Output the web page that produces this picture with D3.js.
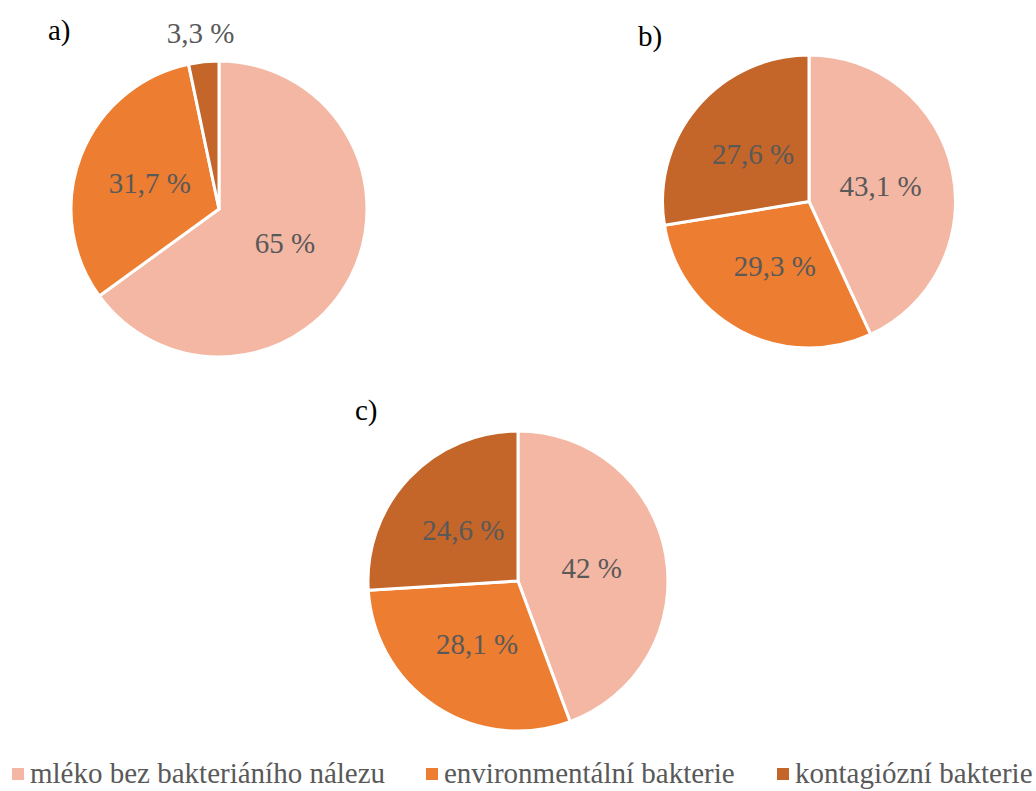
<!DOCTYPE html>
<html>
<head>
<meta charset="utf-8">
<script src="https://cdn.jsdelivr.net/npm/d3@7"></script>
<style>
  html, body { margin: 0; padding: 0; background: #fff; }
</style>
</head>
<body>
<svg id="chart" width="1036" height="791"></svg>
<script>
// Categories shared by all three pies
const categories = ["mléko bez bakteriáního nálezu", "environmentální bakterie", "kontagiózní bakterie"];
const colors = ["#F4B7A4", "#ED7D31", "#C4652A"];

// Shares (%) for each panel
const panelTitles = ["a)", "b)", "c)"];
const valuesA = [65, 31.7, 3.3];
const valuesB = [43.1, 29.3, 27.6];
const valuesC = [42, 28.1, 24.6];
const labelsA = ["65 %", "31,7 %", "3,3 %"];
const labelsB = ["43,1 %", "29,3 %", "27,6 %"];
const labelsC = ["42 %", "28,1 %", "24,6 %"];

const FONT = "'Liberation Serif', Tinos, 'Times New Roman', 'DejaVu Serif', serif";

const panels = [
  { title: panelTitles[0], values: valuesA, labels: labelsA, cx: 219, cy: 209, r: 148, tx: 48, ty: 40 },
  { title: panelTitles[1], values: valuesB, labels: labelsB, cx: 809, cy: 201.5, r: 146.5, tx: 638, ty: 46 },
  { title: panelTitles[2], values: valuesC, labels: labelsC, cx: 518, cy: 581, r: 150, tx: 355, ty: 420 }
];

const svg = d3.select("#chart");
const color = d3.scaleOrdinal().domain(categories).range(colors);
const pie = d3.pie().sort(null).value(d => d.value);

panels.forEach(p => {
  const data = p.values.map((v, i) => ({ cat: categories[i], value: v, label: p.labels[i] }));
  const arcs = pie(data);
  const arc = d3.arc().innerRadius(0).outerRadius(p.r);
  const inner = d3.arc().innerRadius(p.r * 0.5).outerRadius(p.r * 0.5);
  const outer = d3.arc().innerRadius(p.r * 1.2).outerRadius(p.r * 1.2);

  const g = svg.append("g").attr("transform", `translate(${p.cx},${p.cy})`);

  g.selectAll("path.slice")
    .data(arcs)
    .join("path")
    .attr("class", "slice")
    .attr("d", arc)
    .attr("fill", d => color(d.data.cat))
    .attr("stroke", "#fff")
    .attr("stroke-width", 3)
    .attr("stroke-linejoin", "round");

  // Small slices get their label outside the pie
  g.selectAll("text.val")
    .data(arcs)
    .join("text")
    .attr("class", "val")
    .attr("transform", d => {
      const small = (d.endAngle - d.startAngle) < 0.3;
      const [x, y] = (small ? outer : inner).centroid(d);
      return `translate(${x},${y})`;
    })
    .attr("text-anchor", "middle")
    .attr("dy", "0.35em")
    .attr("fill", "#595959")
    .attr("font-family", FONT)
    .attr("font-size", 29)
    .text(d => d.data.label);

  svg.append("text")
    .attr("x", p.tx)
    .attr("y", p.ty)
    .attr("fill", "#000")
    .attr("font-family", FONT)
    .attr("font-size", 29)
    .text(p.title);
});

// Legend
const legendX = [12, 426, 777];
const legend = svg.append("g").attr("class", "legend");
categories.forEach((c, i) => {
  legend.append("rect")
    .attr("x", legendX[i])
    .attr("y", 768)
    .attr("width", 12)
    .attr("height", 12)
    .attr("fill", color(c));
  legend.append("text")
    .attr("x", legendX[i] + 18)
    .attr("y", 783)
    .attr("font-family", FONT)
    .attr("font-size", 29)
    .attr("fill", "#595959")
    .text(c);
});
</script>
</body>
</html>
